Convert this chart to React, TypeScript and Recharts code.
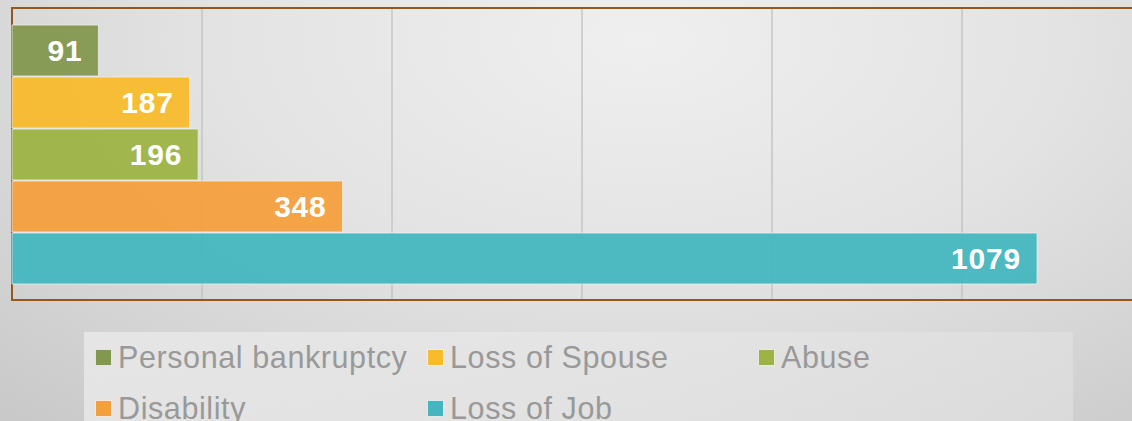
import React from 'react';
import { BarChart, Bar, XAxis, YAxis, CartesianGrid, LabelList, ReferenceArea } from 'recharts';

const categories = ['Causes'];
const seriesNames = ['Personal bankruptcy', 'Loss of Spouse', 'Abuse', 'Disability', 'Loss of Job'];
const seriesValues = [91, 187, 196, 348, 1079];
const seriesColors = ['#83984f', '#f8bb2c', '#9db444', '#f49f3e', '#45b6bf'];
const xTicks = [0, 200, 400, 600, 800, 1000, 1200];
const legendOrder = [0, 1, 2, 3, 4];

const data = categories.map((c) => {
  const row: Record<string, string | number> = { category: c };
  seriesNames.forEach((n, i) => {
    row[n] = seriesValues[i];
  });
  return row;
});

const FONT = '"Liberation Sans", Arial, sans-serif';

export default function App() {
  const colX = [95, 427, 758];
  const rowY = [339, 390];
  return (
    <div
      style={{
        position: 'absolute',
        left: 0,
        top: 0,
        width: 1132,
        height: 421,
        overflow: 'hidden',
        background:
          'radial-gradient(ellipse 950px 520px at 640px 40px, #efefef 0%, #e3e3e3 45%, #d2d2d2 80%, #c8c8c8 100%)',
        fontFamily: FONT,
      }}
    >
      <BarChart
        width={1170}
        height={421}
        data={data}
        layout="vertical"
        margin={{ top: 8, left: 12, right: 18, bottom: 121 }}
        barSize={51}
        barGap={1}
      >
        <XAxis type="number" domain={[0, 1200]} ticks={xTicks} hide />
        <YAxis type="category" dataKey="category" hide />
        <CartesianGrid horizontal={false} stroke="#bdbdbd" strokeWidth={1.2} />
        <ReferenceArea x1={0} x2={1200} fill="none" stroke="#94581a" strokeWidth={2} ifOverflow="visible" />
        {seriesNames.map((n, i) => (
          <Bar
            key={n}
            dataKey={n}
            fill={seriesColors[i]}
            fillOpacity={0.95}
            stroke="#f2f2f2"
            strokeOpacity={0.75}
            strokeWidth={1}
            isAnimationActive={false}
          >
            <LabelList
              dataKey={n}
              position="insideRight"
              offset={16}
              fill="#ffffff"
              style={{ fontFamily: FONT, fontWeight: 700, fontSize: 30, letterSpacing: 0.8 }}
            />
          </Bar>
        ))}
      </BarChart>
      <div
        style={{
          position: 'absolute',
          left: 84,
          top: 332,
          width: 989,
          height: 120,
          background: 'linear-gradient(90deg, rgba(236,236,236,0.75), rgba(226,226,226,0.6))',
        }}
      />
      {legendOrder.map((idx, k) => {
        const col = k % 3;
        const row = Math.floor(k / 3);
        return (
          <div
            key={seriesNames[idx]}
            style={{
              position: 'absolute',
              left: colX[col],
              top: rowY[row],
              display: 'flex',
              alignItems: 'flex-start',
              whiteSpace: 'nowrap',
            }}
          >
            <div
              style={{
                width: 15,
                height: 15,
                marginTop: 10,
                background: seriesColors[idx],
                border: '1px solid rgba(250,250,250,0.8)',
                boxSizing: 'content-box',
              }}
            />
            <span
              style={{
                marginLeft: 6,
                fontSize: 30.5,
                lineHeight: '36px',
                letterSpacing: 0.6,
                color: '#999999',
                fontFamily: FONT,
              }}
            >
              {seriesNames[idx]}
            </span>
          </div>
        );
      })}
    </div>
  );
}
